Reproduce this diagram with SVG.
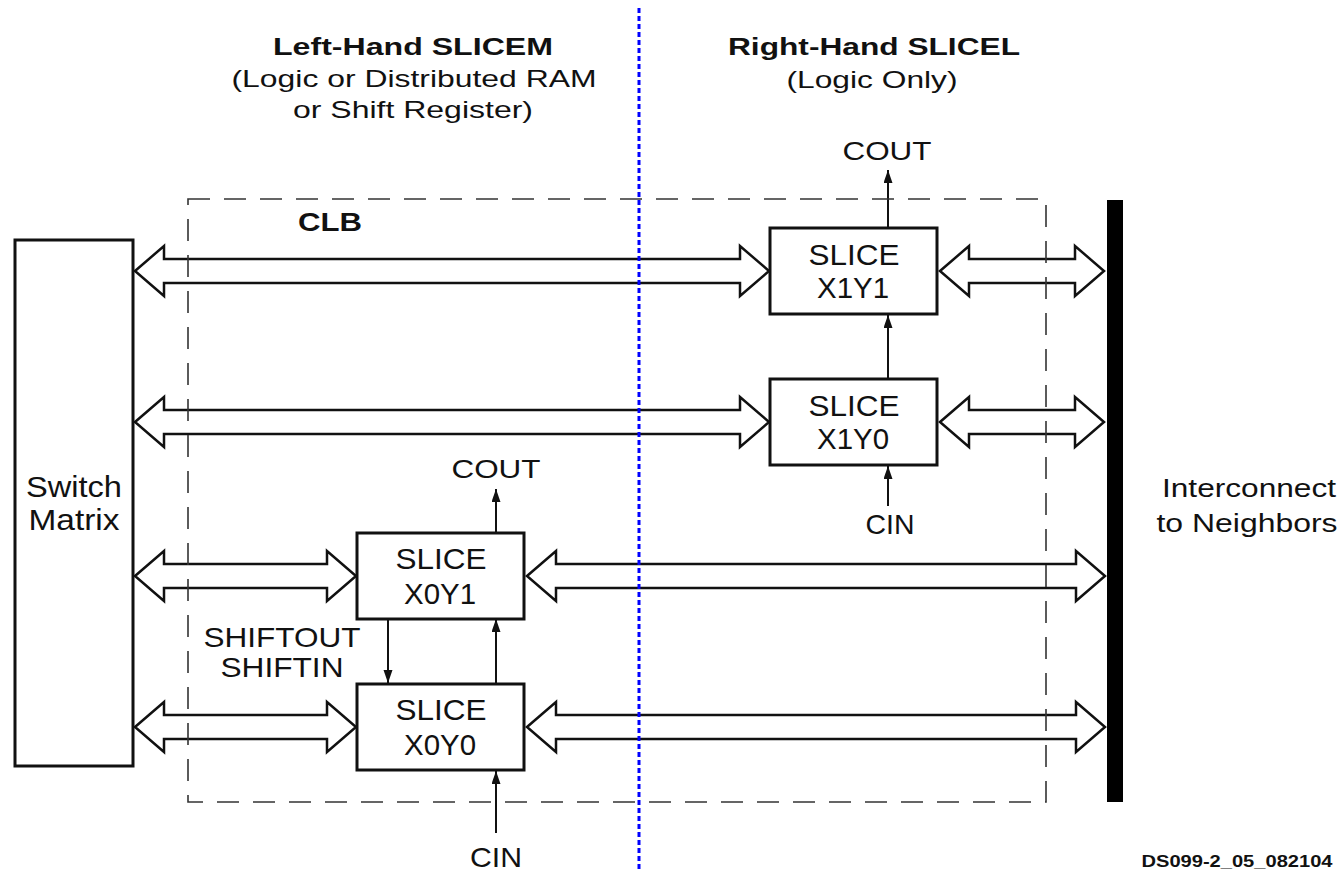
<svg xmlns="http://www.w3.org/2000/svg" width="1344" height="872" viewBox="0 0 1344 872">
<style>
text{font-family:"Liberation Sans",Arial,sans-serif;fill:#111;text-anchor:middle}
.b{font-weight:bold}
.box{fill:#fff;stroke:#111;stroke-width:3}
.bus{fill:#fff;stroke:#111;stroke-width:2.5;stroke-linejoin:miter}
.thin{stroke:#111;stroke-width:2;fill:none}
.clb{fill:none;stroke:#333;stroke-width:1.6;stroke-dasharray:22 14}
.div{stroke:#0000ff;stroke-width:3;stroke-dasharray:5 3}
</style>
<defs>
<marker id="ah" markerUnits="userSpaceOnUse" markerWidth="14" markerHeight="10" refX="13" refY="4.5" orient="auto">
<path d="M0,0 L13,4.5 L0,9 z" fill="#111"/>
</marker>
</defs>
<rect width="1344" height="872" fill="#fff"/>

<g id="titles">
<text class="b" x="413" y="55" font-size="23" textLength="280" lengthAdjust="spacingAndGlyphs">Left-Hand SLICEM</text>
<text x="414" y="87" font-size="24" textLength="365" lengthAdjust="spacingAndGlyphs">(Logic or Distributed RAM</text>
<text x="413" y="118" font-size="24" textLength="240" lengthAdjust="spacingAndGlyphs">or Shift Register)</text>
<text class="b" x="874" y="55" font-size="23" textLength="292" lengthAdjust="spacingAndGlyphs">Right-Hand SLICEL</text>
<text x="872" y="88" font-size="24" textLength="171" lengthAdjust="spacingAndGlyphs">(Logic Only)</text>
</g>

<g id="connectors">
<polygon class="bus" points="135,271 164,246 164,259 740,259 740,246 769,271 740,296 740,283 164,283 164,296"/>
<polygon class="bus" points="940,271 969,246 969,259 1075,259 1075,246 1104,271 1075,296 1075,283 969,283 969,296"/>
<polygon class="bus" points="135,422 164,397 164,410 740,410 740,397 769,422 740,447 740,434 164,434 164,447"/>
<polygon class="bus" points="940,422 969,397 969,410 1075,410 1075,397 1104,422 1075,447 1075,434 969,434 969,447"/>
<polygon class="bus" points="135,576 164,551 164,564 327,564 327,551 356,576 327,601 327,588 164,588 164,601"/>
<polygon class="bus" points="527,576 556,551 556,564 1076,564 1076,551 1105,576 1076,601 1076,588 556,588 556,601"/>
<polygon class="bus" points="135,727 164,702 164,715 327,715 327,702 356,727 327,752 327,739 164,739 164,752"/>
<polygon class="bus" points="527,727 556,702 556,715 1076,715 1076,702 1105,727 1076,752 1076,739 556,739 556,752"/>
<line class="thin" x1="888" y1="228" x2="888" y2="170" marker-end="url(#ah)"/>
<line class="thin" x1="888" y1="379" x2="888" y2="315" marker-end="url(#ah)"/>
<line class="thin" x1="888" y1="506" x2="888" y2="466" marker-end="url(#ah)"/>
<line class="thin" x1="496" y1="533" x2="496" y2="489" marker-end="url(#ah)"/>
<line class="thin" x1="496" y1="684" x2="496" y2="619" marker-end="url(#ah)"/>
<line class="thin" x1="388" y1="619" x2="388" y2="683" marker-end="url(#ah)"/>
<line class="thin" x1="496" y1="833" x2="496" y2="771" marker-end="url(#ah)"/>
</g>

<g id="clb">
<rect class="clb" x="188" y="199" width="858" height="603"/>
<text class="b" x="330" y="231" font-size="26" textLength="64" lengthAdjust="spacingAndGlyphs">CLB</text>
</g>

<line id="divider" class="div" x1="639" y1="8" x2="639" y2="872"/>

<g id="switch-matrix">
<rect class="box" x="15" y="240" width="118" height="526"/>
<text x="74" y="497" font-size="29" textLength="96" lengthAdjust="spacingAndGlyphs">Switch</text>
<text x="74" y="530" font-size="29" textLength="91" lengthAdjust="spacingAndGlyphs">Matrix</text>
</g>

<g id="slice-x1y1">
<rect class="box" x="770" y="228" width="167" height="86"/>
<text x="854" y="265" font-size="30" textLength="91" lengthAdjust="spacingAndGlyphs">SLICE</text>
<text x="853" y="298" font-size="30" textLength="72" lengthAdjust="spacingAndGlyphs">X1Y1</text>
</g>
<g id="slice-x1y0">
<rect class="box" x="770" y="379" width="167" height="86"/>
<text x="854" y="416" font-size="30" textLength="91" lengthAdjust="spacingAndGlyphs">SLICE</text>
<text x="853" y="449" font-size="30" textLength="72" lengthAdjust="spacingAndGlyphs">X1Y0</text>
</g>
<g id="slice-x0y1">
<rect class="box" x="357" y="533" width="167" height="86"/>
<text x="441" y="569" font-size="30" textLength="91" lengthAdjust="spacingAndGlyphs">SLICE</text>
<text x="440" y="604" font-size="30" textLength="72" lengthAdjust="spacingAndGlyphs">X0Y1</text>
</g>
<g id="slice-x0y0">
<rect class="box" x="357" y="684" width="167" height="86"/>
<text x="441" y="720" font-size="30" textLength="91" lengthAdjust="spacingAndGlyphs">SLICE</text>
<text x="440" y="755" font-size="30" textLength="72" lengthAdjust="spacingAndGlyphs">X0Y0</text>
</g>

<g id="interconnect">
<rect x="1107" y="200" width="16" height="602" fill="#000"/>
<text x="1249" y="497" font-size="26" textLength="174" lengthAdjust="spacingAndGlyphs">Interconnect</text>
<text x="1247" y="532" font-size="26" textLength="181" lengthAdjust="spacingAndGlyphs">to Neighbors</text>
</g>

<g id="labels">
<text x="887" y="160" font-size="25" textLength="89" lengthAdjust="spacingAndGlyphs">COUT</text>
<text x="890" y="534" font-size="28" textLength="49" lengthAdjust="spacingAndGlyphs">CIN</text>
<text x="496" y="478" font-size="25" textLength="89" lengthAdjust="spacingAndGlyphs">COUT</text>
<text x="282" y="647" font-size="28" textLength="157" lengthAdjust="spacingAndGlyphs">SHIFTOUT</text>
<text x="282" y="677" font-size="28" textLength="123" lengthAdjust="spacingAndGlyphs">SHIFTIN</text>
<text x="496" y="867" font-size="28" textLength="52" lengthAdjust="spacingAndGlyphs">CIN</text>
<text class="b" x="1237" y="867" font-size="16" textLength="191" lengthAdjust="spacingAndGlyphs">DS099-2_05_082104</text>
</g>
</svg>
